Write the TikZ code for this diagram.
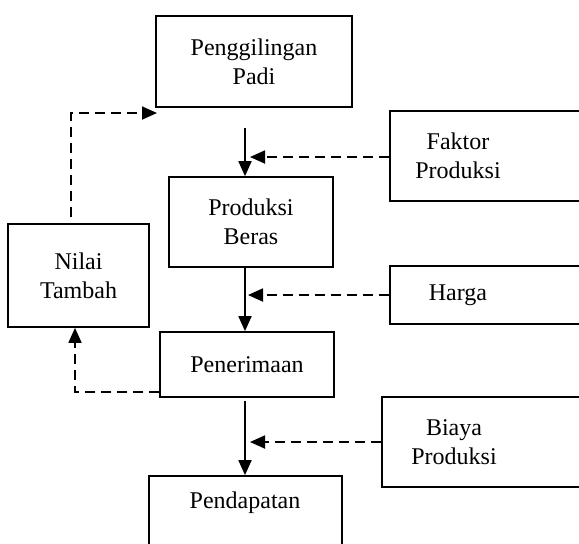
\documentclass[tikz,border=0pt]{standalone}
\usepackage{fontspec}
\setmainfont{Liberation Serif}
\usetikzlibrary{arrows.meta}
\tikzset{
  box/.style={draw, line width=0.85pt, inner sep=0pt},
  txt/.style={align=center, inner sep=0pt, font=\fontsize{12}{14.5}\selectfont},
  flow/.style={line width=0.9pt, -{Triangle[length=7.5pt,width=6.5pt]}},
  dflow/.style={flow, dash pattern=on 5pt off 3pt}
}

\begin{document}
\begin{tikzpicture}[x=0.5pt, y=-0.5pt]
\clip (0, 0) rectangle (579, 543);
\useasboundingbox (0, 0) rectangle (579, 543);
% main chain
\node [box, txt, minimum width=98pt, minimum height=45.5pt] (giling) at (254, 61.5) {Penggilingan\\Padi};
\node [box, txt, minimum width=82pt, minimum height=45pt] (beras) at (251, 222) {Produksi\\Beras};
\node [box, txt, minimum width=87pt, minimum height=32.5pt] (terima) at (247, 364.5) {Penerimaan};
\node [box, minimum width=96.5pt, minimum height=47pt] (dapat) at (245.5, 523) {};
\node [txt] (dapattxt) at (245, 503) {Pendapatan};
\node [box, txt, minimum width=70.5pt, minimum height=51.5pt] (nilai) at (78.5, 275.5) {Nilai\\Tambah};
% inputs on the right
\node [box, anchor=west, minimum width=115.5pt, minimum height=45pt] (faktor) at (389, 156) {};
\node [txt] (faktortxt) at (458, 156) {Faktor\\Produksi};
\node [box, anchor=west, minimum width=115.5pt, minimum height=29pt] (harga) at (389, 295) {};
\node [txt] (hargatxt) at (458, 295) {Harga};
\node [box, anchor=west, minimum width=119.5pt, minimum height=45pt] (biaya) at (381, 442) {};
\node [txt] (biayatxt) at (454, 442) {Biaya\\Produksi};

\coordinate (a0) at (245, 128);
\coordinate (a1) at (250, 157);
\coordinate (a2) at (248, 295);
\coordinate (a3) at (250, 442);
\coordinate (n0) at (71, 217);
\coordinate (n1) at (157, 113);
\coordinate (t0) at (75, 392);

\draw [flow] (a0) -- (beras.north -| a0);
\draw [flow] (beras.south -| a0) -- (terima.north -| a0);
\draw [flow] ([yshift=-1.5pt]terima.south -| dapattxt) -- (dapat.north -| dapattxt);
\draw [dflow] (faktor.west |- a1) -- (a1);
\draw [dflow] (harga.west |- a2) -- (a2);
\draw [dflow] (biaya.west |- a3) -- (a3);
\draw [dflow] (n0) -- (n0 |- n1) -- (n1);
\draw [dflow] (terima.west |- t0) -- (t0) -- (t0 |- nilai.south);
\end{tikzpicture}
\end{document}
